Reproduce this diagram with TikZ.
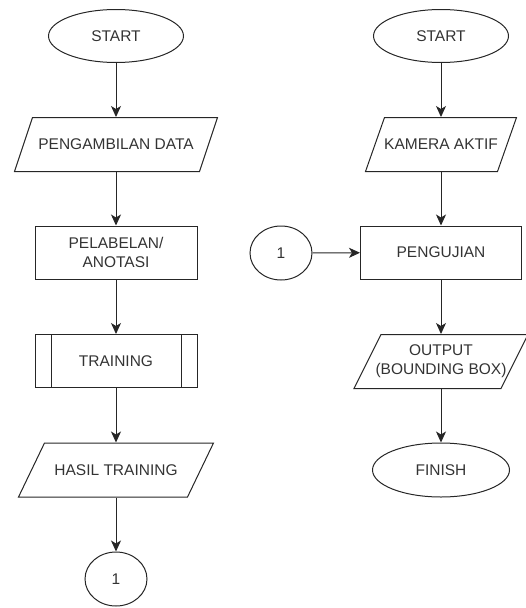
\documentclass[tikz,border=0pt]{standalone}
\usepackage{fontspec}
\setmainfont{Liberation Sans}
\usetikzlibrary{shapes.geometric, arrows.meta}

% parallelogram round a node: node, full width, slant
\newcommand{\iobox}[3]{\draw ([shift={({-#2/2+#3},-27)}]#1.center) -- ([shift={(#2/2,-27)}]#1.center)
  -- ([shift={({#2/2-#3},27)}]#1.center) -- ([shift={(-#2/2,27)}]#1.center) -- cycle;}

\begin{document}
\begin{tikzpicture}[x=1pt, y=-1pt, line width=1pt, black!85,
    every node/.style={text=black!80, font=\fontsize{15.5}{19}\selectfont, align=center, inner sep=0pt},
    term/.style={draw, ellipse, minimum width=135pt, minimum height=53pt},
    conn/.style={draw, ellipse, minimum width=62pt, minimum height=54pt},
    proc/.style={draw, rectangle, minimum width=162pt, minimum height=53pt},
    sub/.style={proc, path picture={
        \draw ([xshift=16pt]path picture bounding box.north west) -- ([xshift=16pt]path picture bounding box.south west)
              ([xshift=-16pt]path picture bounding box.north east) -- ([xshift=-16pt]path picture bounding box.south east);}},
    io/.style={rectangle, minimum height=54pt},
    arr/.style={-{Stealth[length=11pt, width=10pt, inset=3pt]}}]
\useasboundingbox (0,0) rectangle (526,608);

\node[term] (s1) at (116,36) {START};
\node[io] (d1) at (116,144.5) {PENGAMBILAN DATA};
\node[proc] (l1) at (116,252.5) {PELABELAN/\\ANOTASI};
\node[sub] (t1) at (116,361) {TRAINING};
\node[io] (h1) at (116,470) {HASIL TRAINING};
\node[conn] (c1) at (116,579) {1};

\node[term] (s2) at (441,36) {START};
\node[io] (k2) at (441,144.5) {KAMERA AKTIF};
\node[conn] (c2) at (281,253) {1};
\node[proc, minimum width=161pt] (u2) at (441,252.5) {PENGUJIAN};
\node[io] (o2) at (441,361.5) {OUTPUT\\(BOUNDING BOX)};
\node[term, minimum width=137pt, minimum height=54pt] (f2) at (441,470) {FINISH};

\iobox{d1}{203}{18}
\iobox{h1}{195}{26}
\iobox{k2}{151}{19}
\iobox{o2}{174}{27}

\foreach \a/\b in {s1/d1, d1/l1, l1/t1, t1/h1, h1/c1, s2/k2, k2/u2, c2/u2, u2/o2, o2/f2}
  \draw[arr] (\a) -- (\b);
\end{tikzpicture}
\end{document}
